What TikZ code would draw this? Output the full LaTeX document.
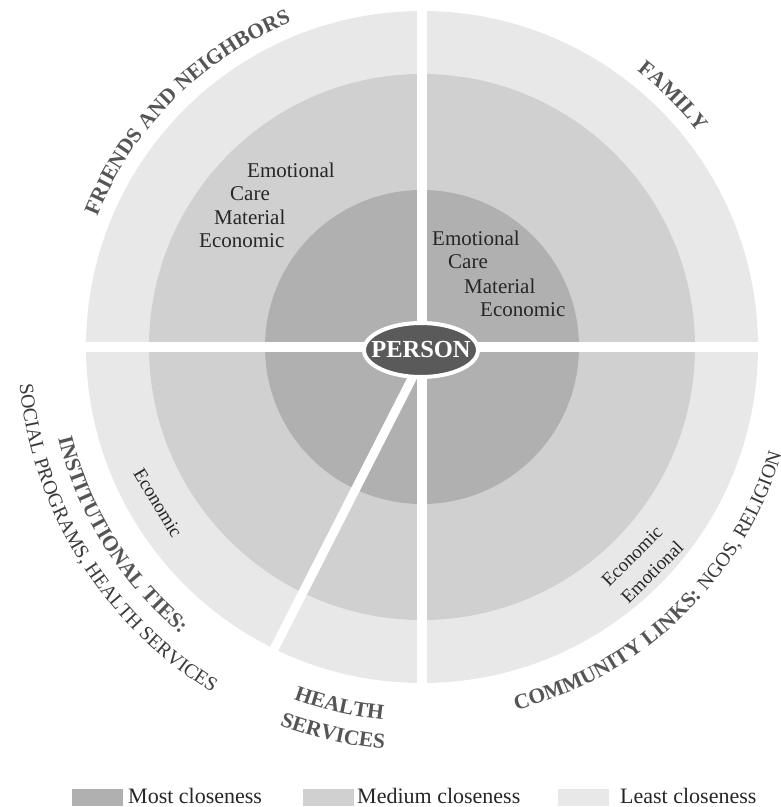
\documentclass[tikz,border=0pt]{standalone}
\usepackage{fontspec}
\setmainfont{Liberation Serif}
\usepackage{tikz}
\usetikzlibrary{decorations.text}

\definecolor{mostgray}{HTML}{B0B0B0}
\definecolor{mediumgray}{HTML}{D0D0D0}
\definecolor{leastgray}{HTML}{E8E8E8}
\definecolor{headgray}{HTML}{555555}
\definecolor{subgray}{HTML}{3A3A3A}
\definecolor{persongray}{HTML}{5A5A5A}

\newcommand{\headfont}{\fontsize{21.5}{25}\selectfont\bfseries\color{headgray}}
\newcommand{\subfont}{\fontsize{20}{24}\selectfont\color{subgray}}

\tikzset{
  gap/.style={white, line width=10pt},
  support/.style={black!85, inner sep=0pt, anchor=base west, font=\fontsize{21}{25}\selectfont},
  ringtag/.style={black!85, inner sep=0pt, font=\fontsize{19}{23}\selectfont},
  keybox/.style={minimum width=51pt, minimum height=17pt, inner sep=0pt},
  keytext/.style={black!85, inner sep=0pt, anchor=base west, font=\fontsize{22}{26}\selectfont},
  persontext/.style={white, inner sep=0pt, font=\fontsize{24.5}{28}\selectfont\bfseries},
  arclabel/.style={decorate, decoration={text along path, text align=center, text={#1}}}
}

\begin{document}
\begin{tikzpicture}
\useasboundingbox (-422pt,-460pt) rectangle (359pt,347pt);

\fill [leastgray] (0pt,0pt) circle [radius=336pt];
\fill [mediumgray] (0pt,0pt) circle [radius=273pt];
\fill [mostgray] (0pt,0pt) circle [radius=157pt];

\draw [gap] (-340pt,0pt) -- (340pt,0pt);
\draw [gap] (0pt,-340pt) -- (0pt,340pt);
\draw [gap, line width=9pt] (6pt,0pt) -- ++(243:345pt);

\draw [white, line width=4pt, fill=persongray] (-1pt,-3pt) ellipse [x radius=57pt, y radius=27pt];
\node [persontext] (person) at (-1pt,-3pt) {PERSON};

\node [support] (fremo) at (-175pt,170pt) {Emotional};
\node [support] (frcare) at (-192pt,147pt) {Care};
\node [support] (frmat) at (-208pt,123pt) {Material};
\node [support] (freco) at (-223pt,100pt) {Economic};

\node [support] (faemo) at (10pt,102pt) {Emotional};
\node [support] (facare) at (26pt,79pt) {Care};
\node [support] (famat) at (42pt,54pt) {Material};
\node [support] (faeco) at (58pt,31pt) {Economic};

\node [ringtag, rotate=-59] (inseco) at (-264pt,-156pt) {Economic};
\node [ringtag, rotate=45] (comeco) at (210pt,-209pt) {Economic};
\node [ringtag, rotate=45] (comemo) at (230pt,-225pt) {Emotional};

\path [arclabel={|\headfont|FRIENDS AND NEIGHBORS}] (175:350pt) arc [start angle=175, end angle=95, radius=350pt];
\path [arclabel={|\headfont|FAMILY}] (85:350pt) arc [start angle=85, end angle=5, radius=350pt];
\path [arclabel={|\headfont|INSTITUTIONAL TIES:}] (167:375pt) arc [start angle=167, end angle=257, radius=375pt];
\path [arclabel={|\subfont|SOCIAL PROGRAMS, HEALTH SERVICES}] (167:404pt) arc [start angle=167, end angle=257, radius=404pt];
\path [arclabel={|\headfont|HEALTH}] (227:375pt) arc [start angle=227, end angle=287, radius=375pt];
\path [arclabel={|\headfont|SERVICES}] (227:404pt) arc [start angle=227, end angle=287, radius=404pt];
\path [arclabel={|\headfont|COMMUNITY LINKS: |\subfont|NGOS, RELIGION}] (-91:375pt) arc [start angle=-91, end angle=-1, radius=375pt];

\node [keybox, fill=mostgray] (keymost) at (-324.5pt,-450.5pt) {};
\node [keytext] (keymosttext) at (-294pt,-456pt) {Most closeness};
\node [keybox, fill=mediumgray] (keymedium) at (-93.5pt,-450.5pt) {};
\node [keytext] (keymediumtext) at (-65pt,-456pt) {Medium closeness};
\node [keybox, fill=leastgray] (keyleast) at (161.5pt,-450.5pt) {};
\node [keytext] (keyleasttext) at (198pt,-456pt) {Least closeness};

\end{tikzpicture}
\end{document}
